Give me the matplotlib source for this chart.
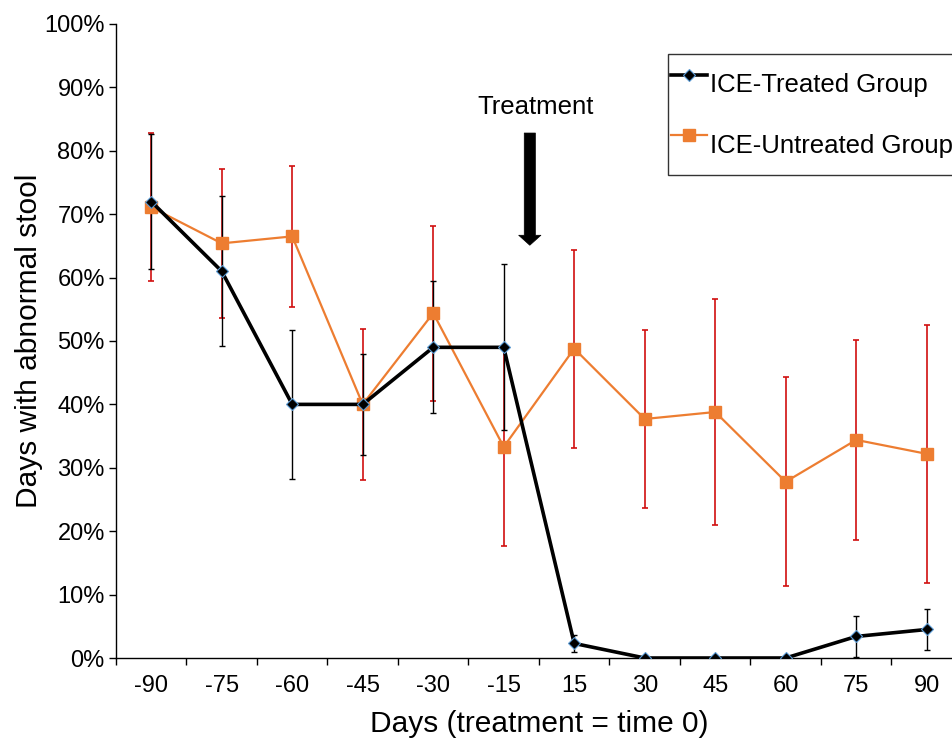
import matplotlib.pyplot as plt
import numpy as np
from matplotlib.ticker import FixedLocator, PercentFormatter

days = ["-90", "-75", "-60", "-45", "-30", "-15", "15", "30", "45", "60", "75", "90"]

treated = [72, 61, 40, 40, 49, 49, 2.3, 0, 0, 0, 3.4, 4.5]
treated_err = [10.7, 11.8, 11.8, 8, 10.4, 13.1, 1.3, 0, 0, 0, 3.2, 3.2]

untreated = [71.1, 65.4, 66.5, 40, 54.4, 33.3, 48.8, 37.7, 38.8, 27.8, 34.4, 32.2]
untreated_err = [11.7, 11.8, 11.1, 11.9, 13.8, 15.6, 15.6, 14.0, 17.8, 16.5, 15.8, 20.3]

BLACK = "#000000"
ORANGE = "#ed7d31"
RED = "#d10f0f"
BLUE_EDGE = "#5b9bd5"

plt.rcParams["font.family"] = ["Liberation Sans", "DejaVu Sans"]

fig = plt.figure(figsize=(9.53, 7.40), dpi=100)
ax = fig.add_axes([0.1217, 0.1108, 0.8877, 0.8568])

x = np.arange(len(days))

# error bars first, lines on top
ax.errorbar(x, untreated, yerr=untreated_err, fmt="none", ecolor=RED,
            elinewidth=1.2, capsize=2.5, capthick=1.2, zorder=2)
ax.errorbar(x, treated, yerr=treated_err, fmt="none", ecolor=BLACK,
            elinewidth=1.0, capsize=2.5, capthick=1.0, zorder=3)

ax.plot(x, untreated, color=ORANGE, lw=1.6, marker="s", markersize=9,
        markerfacecolor=ORANGE, markeredgecolor=ORANGE, zorder=4,
        label="ICE-Untreated Group")
ax.plot(x, treated, color=BLACK, lw=2.6, marker="D", markersize=6,
        markerfacecolor=BLACK, markeredgecolor=BLUE_EDGE, markeredgewidth=0.8,
        zorder=5, label="ICE-Treated Group")

ax.set_xlim(-0.5, len(days) - 0.5)
ax.set_ylim(0, 100)

ax.set_xticks(x)
ax.set_xticklabels(days, fontsize=17)
ax.xaxis.set_minor_locator(FixedLocator(np.arange(-0.5, len(days), 1)))
ax.tick_params(axis="x", which="major", length=0, pad=12)
ax.tick_params(axis="x", which="minor", length=5, width=1, direction="out")

ax.set_yticks(np.arange(0, 101, 10))
ax.yaxis.set_major_formatter(PercentFormatter(decimals=0))
ax.tick_params(axis="y", labelsize=17, length=5, width=1, direction="out", pad=3)

ax.spines["top"].set_visible(False)
ax.spines["right"].set_visible(False)
ax.spines["left"].set_linewidth(1)
ax.spines["bottom"].set_linewidth(1)

ax.set_xlabel("Days (treatment = time 0)", fontsize=21.5, labelpad=9.5)
ax.set_ylabel("Days with abnormal stool", fontsize=21.5, labelpad=1)

# treatment arrow
ax.annotate("", xy=(5.37, 65.1), xytext=(5.37, 82.8),
            arrowprops=dict(arrowstyle="simple,head_width=0.8,head_length=0.36,tail_width=0.4",
                            mutation_scale=20, facecolor=BLACK, edgecolor=BLACK,
                            lw=0.5, shrinkA=0, shrinkB=0))
ax.text(5.45, 85.0, "Treatment", ha="center", va="bottom", fontsize=18.5)

handles, labels = ax.get_legend_handles_labels()
leg = ax.legend(handles[::-1], labels[::-1], loc="upper left",
                bbox_to_anchor=(0.652, 0.953), fontsize=18.5, frameon=True,
                fancybox=False, edgecolor=BLACK, labelspacing=0.3,
                handleheight=2.8, handlelength=1.4, handletextpad=0.1,
                borderpad=0.15, borderaxespad=0)
leg.get_frame().set_linewidth(1.0)

fig.savefig("out.png", dpi=100, facecolor="white")
